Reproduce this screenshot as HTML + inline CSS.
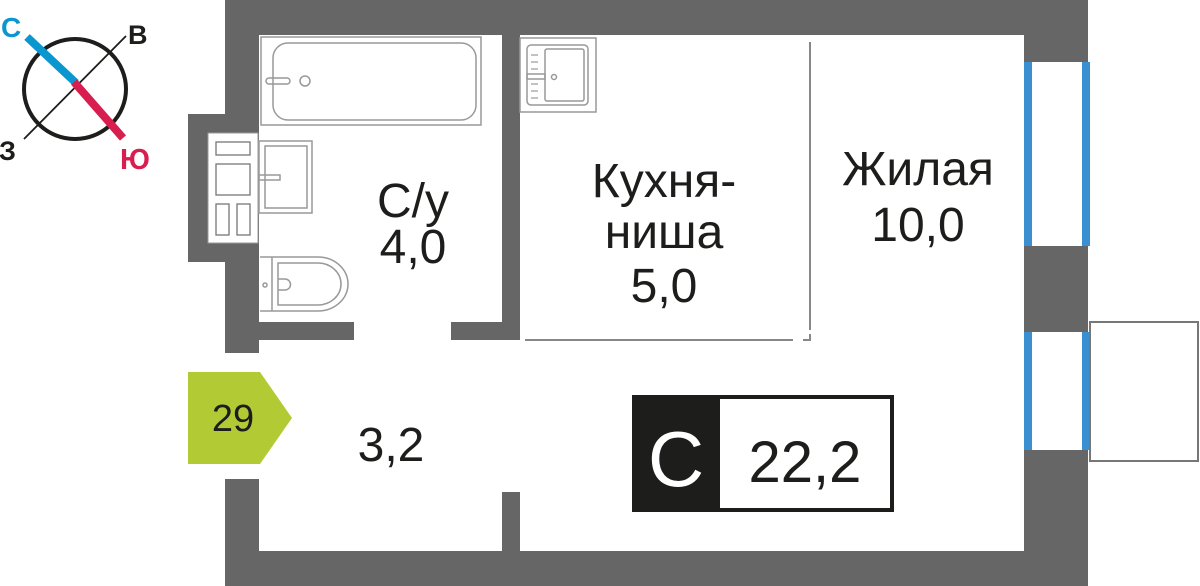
<!DOCTYPE html>
<html><head><meta charset="utf-8"><style>
html,body{margin:0;padding:0;background:#fff;}
svg{display:block;}
text{font-family:"Liberation Sans",sans-serif;}
</style></head><body>
<svg width="1200" height="586" viewBox="0 0 1200 586" xmlns="http://www.w3.org/2000/svg">
<!-- walls -->
<g fill="#666">
<rect x="225" y="0" width="863" height="35"/>
<rect x="1024" y="0" width="64" height="62"/>
<rect x="225" y="0" width="34" height="353"/>
<rect x="188" y="114" width="37" height="148"/>
<rect x="259" y="322" width="95" height="18"/>
<rect x="451" y="322" width="69" height="18"/>
<rect x="502" y="34" width="18" height="306"/>
<rect x="1024" y="246" width="64" height="86"/>
<rect x="1024" y="450" width="64" height="136"/>
<rect x="225" y="551" width="863" height="35"/>
<rect x="225" y="479" width="34" height="107"/>
<rect x="502" y="492" width="18" height="60"/>
</g>
<!-- fixture panel -->
<rect x="208" y="133" width="50" height="110" fill="#fff" stroke="#999" stroke-width="1"/>
<g fill="none" stroke="#777" stroke-width="1.3">
<rect x="216" y="142" width="34" height="13"/>
<rect x="216" y="164" width="34" height="31"/>
<rect x="216" y="204" width="13" height="31"/>
<rect x="237" y="204" width="13" height="31"/>
</g>
<!-- windows -->
<g fill="#3a8fd0">
<rect x="1024" y="62" width="8" height="184"/><rect x="1082" y="62" width="8" height="184"/>
<rect x="1024" y="332" width="8" height="118"/><rect x="1082" y="332" width="8" height="118"/>
</g>
<rect x="1032" y="62" width="50" height="184" fill="#fff"/>
<rect x="1032" y="332" width="50" height="118" fill="#fff"/>
<rect x="1090" y="322" width="108" height="139" fill="none" stroke="#777" stroke-width="2"/>
<!-- bathtub -->
<g fill="none" stroke="#999" stroke-width="1.5">
<rect x="261" y="37" width="220" height="88"/>
<rect x="273" y="43" width="203" height="77" rx="15"/>
<rect x="266" y="78" width="24" height="6" rx="3"/>
<circle cx="305" cy="81" r="5"/>
<rect x="259" y="141" width="53" height="72"/>
<rect x="265" y="146" width="42" height="62"/>
<rect x="259" y="175" width="21" height="5"/>
<path d="M260 257 H318 A30 27 0 0 1 318 311 H260"/>
<path d="M272 257 V311"/>
<path d="M278 263 H318 A23 21 0 0 1 318 305 H278 Z"/>
<path d="M278 279 H285 A5.5 5.5 0 0 1 285 290 H278"/>
<circle cx="265" cy="285" r="2"/>
<rect x="520" y="38" width="76" height="74"/>
<rect x="527" y="45" width="61" height="60" rx="4"/>
<rect x="545" y="49" width="39" height="52" rx="2"/>
<rect x="527" y="74" width="18" height="5"/>
<circle cx="554" cy="77" r="2.5"/>
</g>
<g stroke="#999" stroke-width="1.2">
<line x1="531" y1="55" x2="538" y2="55"/><line x1="531" y1="62" x2="538" y2="62"/><line x1="531" y1="69" x2="538" y2="69"/>
<line x1="531" y1="84" x2="538" y2="84"/><line x1="531" y1="91" x2="538" y2="91"/><line x1="531" y1="98" x2="538" y2="98"/>
</g>
<g stroke="#888" stroke-width="2" fill="none">
<line x1="810" y1="42" x2="810" y2="330"/>
<line x1="525" y1="340" x2="793" y2="340"/>
<path d="M803 340 H810 V334"/>
</g>
<!-- compass -->
<ellipse cx="75" cy="89" rx="51" ry="50" fill="none" stroke="#1d1d1b" stroke-width="4"/>
<line x1="24" y1="139" x2="126" y2="36" stroke="#1d1d1b" stroke-width="1.8"/>
<line x1="27" y1="37" x2="76" y2="83" stroke="#0a96cf" stroke-width="8"/>
<line x1="74" y1="82" x2="123" y2="138" stroke="#d71e4f" stroke-width="8"/>
<text x="1" y="37" font-size="28" font-weight="bold" fill="#0a96cf">С</text>
<text x="128" y="44" font-size="27" font-weight="bold" fill="#1d1d1b">В</text>
<text x="-1" y="160" font-size="27" font-weight="bold" fill="#1d1d1b">З</text>
<text x="120" y="169" font-size="29" font-weight="bold" fill="#d71e4f">Ю</text>
<!-- badge -->
<polygon points="188,372 260,372 292,418 260,464 188,464" fill="#b2cb35"/>
<text x="233" y="431" font-size="38" text-anchor="middle" fill="#1d1d1b">29</text>
<!-- labels -->
<g font-size="48" fill="#1d1d1b" text-anchor="middle">
<text x="413" y="217">С/у</text>
<text x="413" y="263">4,0</text>
<text x="664" y="197">Кухня-</text>
<text x="664" y="248">ниша</text>
<text x="664" y="302">5,0</text>
<text x="918" y="185">Жилая</text>
<text x="918" y="241">10,0</text>
<text x="391" y="461">3,2</text>
</g>
<!-- area box -->
<rect x="632" y="395" width="86" height="117" fill="#1d1d1b"/>
<rect x="718" y="397" width="174" height="113" fill="#fff" stroke="#1d1d1b" stroke-width="4"/>
<text x="676" y="486" font-size="78" fill="#fff" text-anchor="middle">С</text>
<text x="805" y="482" font-size="58" fill="#1d1d1b" text-anchor="middle">22,2</text>
</svg>
</body></html>
